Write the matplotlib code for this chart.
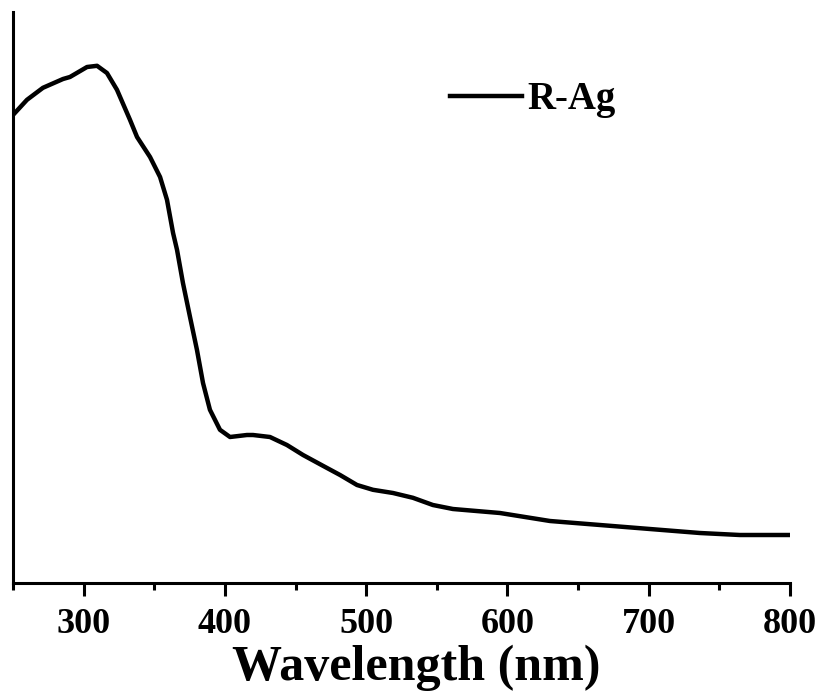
import numpy as np
import matplotlib
matplotlib.use("Agg")
import matplotlib.pyplot as plt
from matplotlib.ticker import MultipleLocator

plt.rcParams['font.family'] = ['Liberation Serif', 'DejaVu Serif']
plt.rcParams['font.weight'] = 'bold'

# UV-vis absorption spectrum of R-Ag (arbitrary units)
wavelength = [250.0, 259.9, 271.2, 285.4, 290.3, 302.4, 309.5, 316.5, 323.6, 332.8,
              337.8, 347.0, 354.1, 359.0, 363.3, 366.1, 370.3, 375.3, 380.2, 384.5,
              389.4, 396.5, 403.6, 415.6, 419.9, 431.9, 443.9, 455.3, 469.4, 481.5,
              493.5, 504.8, 519.0, 533.1, 547.2, 561.4, 594.7, 630.1, 665.5, 700.8,
              736.2, 764.5, 800.0]
absorbance = [1.170, 1.208, 1.238, 1.260, 1.265, 1.290, 1.293, 1.275, 1.233, 1.158,
              1.115, 1.065, 1.015, 0.958, 0.875, 0.833, 0.750, 0.665, 0.583, 0.500,
              0.433, 0.383, 0.365, 0.370, 0.370, 0.365, 0.345, 0.320, 0.293, 0.270,
              0.245, 0.233, 0.225, 0.213, 0.195, 0.185, 0.175, 0.155, 0.145, 0.135,
              0.125, 0.120, 0.120]
series_label = 'R-Ag'

fig = plt.figure(figsize=(8.24, 6.93), dpi=100)
ax = fig.add_axes([13/824, 110/693, 777/824, 571/693])

ax.plot(wavelength, absorbance, color='black', lw=3.2, label=series_label,
        solid_joinstyle='round')

ax.set_xlim(250, 800)
ax.set_ylim(0, 1.4275)
ax.xaxis.set_major_locator(MultipleLocator(100))
ax.xaxis.set_minor_locator(MultipleLocator(50))
ax.set_yticks([])

for s in ['top', 'right']:
    ax.spines[s].set_visible(False)
for s in ['left', 'bottom']:
    ax.spines[s].set_linewidth(2.2)

ax.tick_params(axis='x', which='major', direction='out', length=9, width=2.2,
               labelsize=26, pad=9)
ax.tick_params(axis='x', which='minor', direction='out', length=5, width=2.2)
for lab in ax.get_xticklabels():
    lab.set_fontweight('bold')

ax.set_xlabel('Wavelength (nm)', fontsize=36, fontweight='bold')
ax.xaxis.label.set_va('baseline')
ax.xaxis.set_label_coords((416 - 13) / 777, -0.170)

ax.legend(loc='center left', bbox_to_anchor=(0.562, 0.846), frameon=False,
          fontsize=28, handlelength=1.85, handletextpad=0.15,
          borderpad=0, borderaxespad=0)

fig.savefig('out.png', dpi=100)
